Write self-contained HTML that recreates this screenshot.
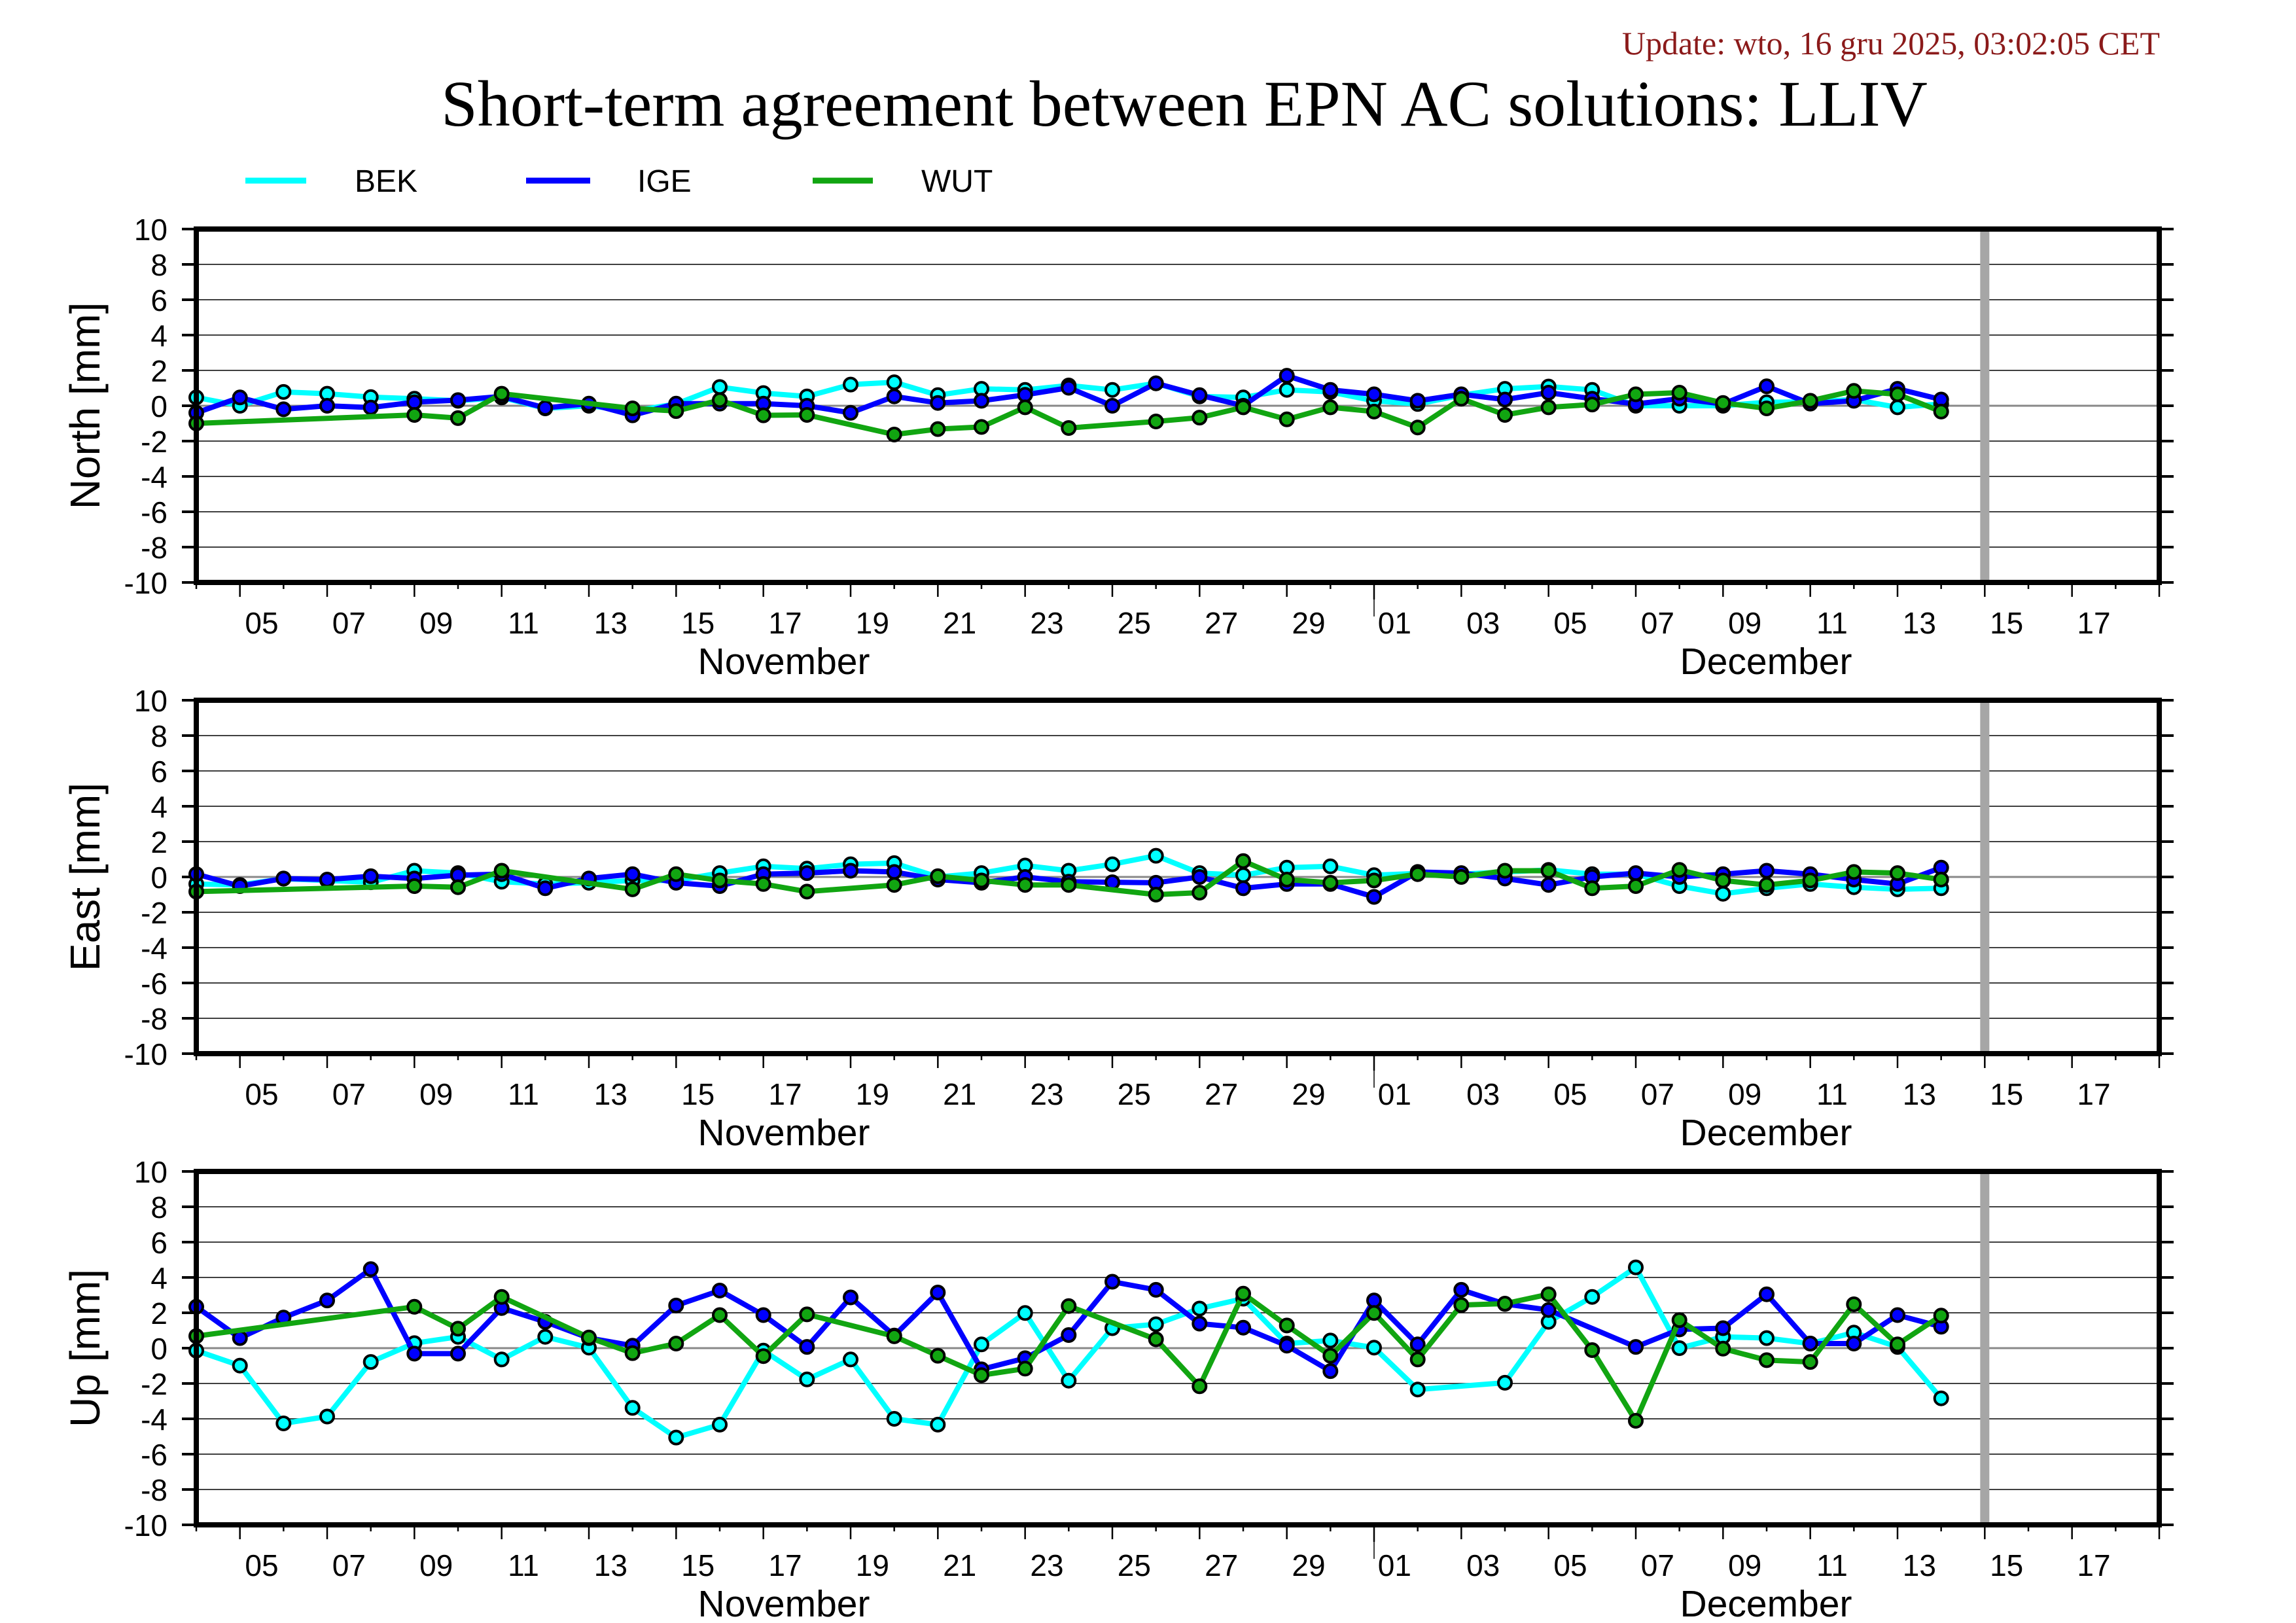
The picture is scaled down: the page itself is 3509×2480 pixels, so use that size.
<!DOCTYPE html>
<html><head><meta charset="utf-8"><style>
html,body{margin:0;padding:0;background:#fff;}
svg{display:block;}
</style></head><body>
<svg id="s" xmlns="http://www.w3.org/2000/svg" width="3509" height="2480" viewBox="0 0 3509 2480">
<rect width="3509" height="2480" fill="#fff"/>
<text x="3301" y="83" text-anchor="end" font-family="Liberation Serif, serif" font-size="50" fill="#8b1a1a">Update: wto, 16 gru 2025, 03:02:05 CET</text>
<text x="1810" y="192" text-anchor="middle" font-family="Liberation Serif, serif" font-size="100" fill="#000">Short-term agreement between EPN AC solutions: LLIV</text>
<line x1="375" y1="276" x2="468" y2="276" stroke="#00ffff" stroke-width="9"/>
<text x="542" y="293" font-family="Liberation Sans, sans-serif" font-size="48">BEK</text>
<line x1="804" y1="276" x2="902" y2="276" stroke="#0000ff" stroke-width="9"/>
<text x="974" y="293" font-family="Liberation Sans, sans-serif" font-size="48">IGE</text>
<line x1="1242" y1="276" x2="1334" y2="276" stroke="#11a511" stroke-width="9"/>
<text x="1408" y="293" font-family="Liberation Sans, sans-serif" font-size="48">WUT</text>
<text transform="translate(152,620) rotate(-90)" text-anchor="middle" font-family="Liberation Sans, sans-serif" font-size="64">North [mm]</text>
<text transform="translate(152,1340) rotate(-90)" text-anchor="middle" font-family="Liberation Sans, sans-serif" font-size="64">East [mm]</text>
<text transform="translate(152,2060) rotate(-90)" text-anchor="middle" font-family="Liberation Sans, sans-serif" font-size="64">Up [mm]</text>
<g id="g"></g>
</svg>
<script>
var N=null;
var D={
N:[[0.47,0,0.78,0.68,0.49,0.4,0.28,0.47,-0.15,0,-0.3,0.1,1.06,0.72,0.53,1.2,1.33,0.6,0.96,0.9,1.15,0.9,1.27,0.53,0.47,0.9,0.78,0.28,0.1,0.6,0.96,1.09,0.9,0,0,0,0.2,0.22,0.35,-0.09,0.1],
[-0.4,0.47,-0.2,0,-0.1,0.2,0.32,0.53,-0.12,0.12,-0.54,0.12,0.12,0.12,0,-0.4,0.53,0.16,0.28,0.62,1.02,0,1.27,0.6,0,1.7,0.9,0.65,0.28,0.65,0.35,0.74,0.4,0.1,0.4,0.1,1.1,0.12,0.28,0.96,0.35],
[-1.0,N,N,N,N,-0.52,-0.7,0.68,N,N,-0.15,-0.3,0.32,-0.54,-0.52,N,-1.63,-1.32,-1.2,-0.09,-1.26,N,-0.89,-0.67,-0.09,-0.77,-0.09,-0.33,-1.23,0.4,-0.52,-0.09,0.07,0.65,0.74,0.16,-0.15,0.28,0.84,0.65,-0.33]],
E:[[-0.4,-0.45,-0.1,-0.2,-0.3,0.35,0.22,-0.27,-0.4,-0.33,-0.2,-0.2,0.22,0.6,0.47,0.72,0.78,0,0.22,0.65,0.35,0.72,1.2,0.22,0.1,0.53,0.6,0.1,0.2,0.16,0.28,0.4,0.16,0.16,-0.52,-0.95,-0.64,-0.4,-0.58,-0.7,-0.64],
[0.16,-0.52,-0.09,-0.15,0.04,-0.09,0.1,0.16,-0.64,-0.09,0.16,-0.33,-0.52,0.16,0.22,0.35,0.28,-0.15,-0.33,0,-0.27,-0.3,-0.33,0,-0.64,-0.4,-0.4,-1.13,0.28,0.22,-0.09,-0.45,0,0.22,0,0.16,0.35,0.16,-0.15,-0.4,0.53],
[-0.83,N,N,N,N,-0.52,-0.58,0.35,N,N,-0.7,0.16,-0.2,-0.4,-0.83,N,-0.45,0.04,-0.2,-0.45,-0.45,N,-1.0,-0.89,0.9,-0.15,-0.33,-0.2,0.16,0,0.35,0.35,-0.64,-0.52,0.4,-0.2,-0.45,-0.2,0.28,0.22,-0.15]],
U:[[-0.14,-0.99,-4.26,-3.87,-0.78,0.28,0.64,-0.64,0.64,0.03,-3.38,-5.06,-4.33,-0.14,-1.77,-0.64,-4.0,-4.33,0.21,1.99,-1.84,1.13,1.35,2.24,2.8,0.26,0.43,0.03,-2.34,N,-1.96,1.49,2.9,4.57,0,0.64,0.57,0.26,0.88,0.07,-2.84],
[2.34,0.57,1.73,2.7,4.47,-0.31,-0.31,2.27,1.49,0.57,0.14,2.41,3.26,1.87,0.07,2.87,0.71,3.15,-1.2,-0.57,0.74,3.76,3.3,1.39,1.16,0.14,-1.3,2.7,0.21,3.3,2.5,2.16,N,0.07,1.06,1.13,3.05,0.26,0.26,1.87,1.21],
[0.68,N,N,N,N,2.34,1.1,2.9,N,0.6,-0.28,0.26,1.87,-0.45,1.91,N,0.67,-0.43,-1.53,-1.16,2.38,N,0.5,-2.16,3.08,1.28,-0.43,1.99,-0.64,2.44,2.52,3.05,-0.11,-4.11,1.59,-0.03,-0.68,-0.78,2.48,0.21,1.84]]
};
var cols=["#00ffff","#0000ff","#11a511"];
var tops={N:350,E:1070,U:1790};
var h='';
function X(d){return 300+d*3000/45;}
var xl=[["05",1],["07",3],["09",5],["11",7],["13",9],["15",11],["17",13],["19",15],["21",17],["23",19],["25",21],["27",23],["29",25],["01",27],["03",29],["05",31],["07",33],["09",35],["11",37],["13",39],["15",41],["17",43]];
["N","E","U"].forEach(function(k){
 var t=tops[k],b=t+540,z=t+270;
 function Y(v){return z-v*27;}
 for(var v=-8;v<=8;v+=2){ if(v==0)continue; h+='<line x1="300" y1="'+Y(v)+'" x2="3300" y2="'+Y(v)+'" stroke="#000" stroke-width="1.6"/>'; }
 h+='<line x1="300" y1="'+z+'" x2="3300" y2="'+z+'" stroke="#888" stroke-width="3"/>';
 h+='<rect x="'+(X(41)-7)+'" y="'+t+'" width="14" height="540" fill="#a6a6a6"/>';
 for(var v=-10;v<=10;v+=2){
  h+='<line x1="278" y1="'+Y(v)+'" x2="300" y2="'+Y(v)+'" stroke="#000" stroke-width="4"/>';
  h+='<line x1="3300" y1="'+Y(v)+'" x2="3322" y2="'+Y(v)+'" stroke="#000" stroke-width="4"/>';
  h+='<text x="256" y="'+(Y(v)+17)+'" text-anchor="end" font-family="Liberation Sans, sans-serif" font-size="46">'+v+'</text>';
 }
 for(var d=0;d<=45;d++){
  var lng=(d%2==1);
  var len=lng?22:10; if(d==27)len=26;
  h+='<line x1="'+X(d)+'" y1="'+b+'" x2="'+X(d)+'" y2="'+(b+len)+'" stroke="#000" stroke-width="2.5"/>';
 }
 h+='<line x1="'+X(27)+'" y1="'+(b+4)+'" x2="'+X(27)+'" y2="'+(b+52)+'" stroke="#000" stroke-width="1.5"/>';
 xl.forEach(function(p){
  var cx=X(p[1]+0.5); if(p[1]==27)cx-=2;
  h+='<text x="'+cx+'" y="'+(b+78)+'" text-anchor="middle" font-family="Liberation Sans, sans-serif" font-size="46">'+p[0]+'</text>';
 });
 h+='<text x="1198" y="'+(b+140)+'" text-anchor="middle" font-family="Liberation Sans, sans-serif" font-size="57">November</text>';
 h+='<text x="2699" y="'+(b+140)+'" text-anchor="middle" font-family="Liberation Sans, sans-serif" font-size="57">December</text>';
 for(var s=0;s<3;s++){
  var a=D[k][s],pts=[];
  for(var d=0;d<a.length;d++) if(a[d]!==null) pts.push(X(d).toFixed(1)+','+Y(a[d]).toFixed(1));
  h+='<polyline points="'+pts.join(' ')+'" fill="none" stroke="'+cols[s]+'" stroke-width="8" stroke-linejoin="round"/>';
  for(var d=0;d<a.length;d++) if(a[d]!==null) h+='<circle cx="'+X(d).toFixed(1)+'" cy="'+Y(a[d]).toFixed(1)+'" r="10" fill="'+cols[s]+'" stroke="#000" stroke-width="4"/>';
 }
 h+='<rect x="300" y="'+t+'" width="3000" height="540" fill="none" stroke="#000" stroke-width="8"/>';
});
document.getElementById('g').innerHTML=h;
</script>
</body></html>
